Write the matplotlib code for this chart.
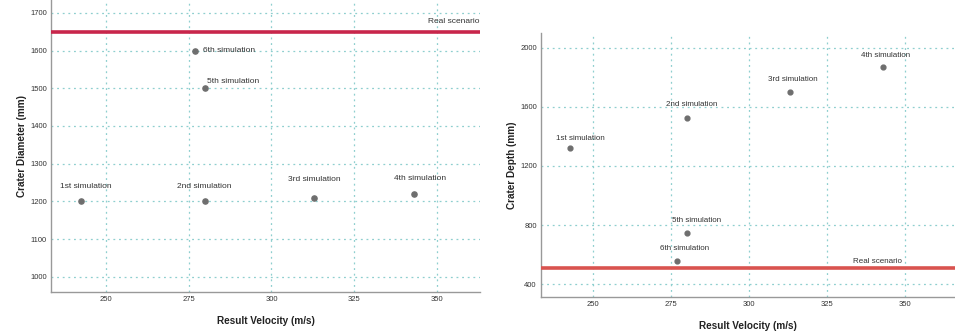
import matplotlib
matplotlib.use("Agg")
import matplotlib.pyplot as plt

# data
labels = ["1st simulation", "2nd simulation", "3rd simulation",
          "4th simulation", "5th simulation", "6th simulation"]
velocity_d = [242.5, 280, 313, 343, 280, 277]
diameter = [1200, 1200, 1210, 1220, 1500, 1600]
velocity_h = [242.5, 280, 313, 343, 280, 277]
depth = [1323, 1525, 1703, 1868, 748, 554]
real_diameter = 1650
real_depth = 512

x_ticks = [250, 275, 300, 325, 350]
diameter_ticks = [1000, 1100, 1200, 1300, 1400, 1500, 1600, 1700]
depth_ticks = [400, 800, 1200, 1600, 2000]

# label offsets in pixels (dx, dy, ha), dy measured to text centre
diam_offsets = [(5, 15, "center"), (-1, 15, "center"), (0, 18, "center"),
                (6, 15, "center"), (2, 7, "left"), (8, 0, "left")]
depth_offsets = [(11, 9, "center"), (5, 13, "center"), (3, 12, "center"),
                 (2, 12, "center"), (10, 12, "center"), (7, 13, "center")]

plt.rcParams["font.family"] = ["Liberation Sans", "DejaVu Sans"]

POINT = "#6e6e6e"
GRID = "#8ecfcf"
TEXT = "#333333"
PX = 0.72  # pixels to points at 100 dpi


def style_axes(ax, xlim, ylim, yticks, ylabel):
    ax.set_xlim(*xlim)
    ax.set_ylim(*ylim)
    ax.set_xticks(x_ticks)
    ax.set_yticks(yticks)
    ax.tick_params(labelsize=5.5, length=0, colors=TEXT, pad=3)
    ax.grid(True, color=GRID, linestyle=(0, (1.5, 3)), linewidth=0.9)
    ax.set_axisbelow(True)
    for side in ["top", "right"]:
        ax.spines[side].set_visible(False)
    for side in ["left", "bottom"]:
        ax.spines[side].set_color("#999999")
        ax.spines[side].set_linewidth(1.0)
    ax.set_xlabel("Result Velocity (m/s)", fontsize=7.2, fontweight="bold",
                  labelpad=9, color="#222222")
    ax.set_ylabel(ylabel, fontsize=7.2, fontweight="bold", labelpad=2,
                  color="#222222")


fig = plt.figure(figsize=(9.55, 3.34), dpi=100)

ax1 = fig.add_axes([0.0534, 0.126, 0.4492, 0.874])
style_axes(ax1, (233.4, 363), (960, 1734), diameter_ticks, "Crater Diameter (mm)")
ax1.axhline(real_diameter, color="#c8264b", linewidth=2.6, zorder=3)
ax1.scatter(velocity_d, diameter, s=14, color=POINT, zorder=4)
for x, y, lab, (dx, dy, ha) in zip(velocity_d, diameter, labels, diam_offsets):
    ax1.annotate(lab, (x, y), xytext=(dx * PX, dy * PX),
                 textcoords="offset points", ha=ha, va="center",
                 fontsize=6, color=TEXT)
ax1.annotate("Real scenario", (363, real_diameter), xytext=(0, 10 * PX),
             textcoords="offset points", ha="right", va="center",
             fontsize=6, color=TEXT)

ax2 = fig.add_axes([0.5665, 0.111, 0.4335, 0.79])
style_axes(ax2, (233.3, 366), (314, 2099), depth_ticks, "Crater Depth (mm)")
ax2.axhline(real_depth, color="#d9534f", linewidth=2.6, zorder=3)
ax2.scatter(velocity_h, depth, s=12, color=POINT, zorder=4)
for x, y, lab, (dx, dy, ha) in zip(velocity_h, depth, labels, depth_offsets):
    ax2.annotate(lab, (x, y), xytext=(dx * PX, dy * PX),
                 textcoords="offset points", ha=ha, va="center",
                 fontsize=5.8, color=TEXT)
ax2.annotate("Real scenario", (341, real_depth), xytext=(0, 6 * PX),
             textcoords="offset points", ha="center", va="center",
             fontsize=5.8, color=TEXT)

fig.savefig("out.png", dpi=100)
plt.close(fig)
